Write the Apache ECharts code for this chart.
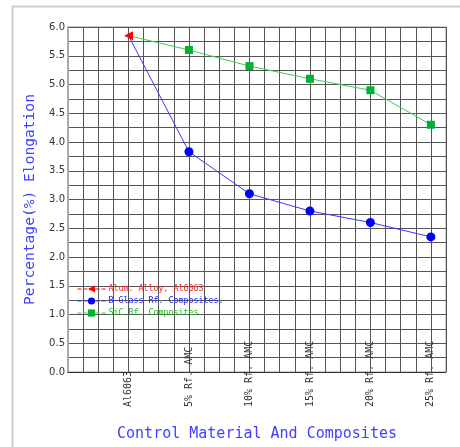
<!DOCTYPE html>
<html>
<head>
<meta charset="utf-8">
<script src="https://cdn.jsdelivr.net/npm/echarts@6/dist/echarts.min.js"></script>
<style>html,body{margin:0;padding:0;background:#fff}#c{width:460px;height:447px}</style>
</head>
<body>
<div id="c"></div>
<script>
var categories = ['Al6063', '5% Rf. AMC', '10% Rf. AMC', '15% Rf. AMC', '20% Rf. AMC', '25% Rf. AMC'];
var seriesNames = ['Alum. Alloy, Al6063', 'B-Glass Rf. Composites.', 'SiC Rf. Composites'];
var alloyValue = 5.85;
var bGlassValues = [3.83, 3.1, 2.8, 2.6, 2.35];
var sicValues = [5.6, 5.32, 5.1, 4.9, 4.3];
var yTicks = ['0.0','0.5','1.0','1.5','2.0','2.5','3.0','3.5','4.0','4.5','5.0','5.5','6.0'];

function buildComposite(vals) {
  var d = [{value: [1, alloyValue], symbol: 'none'}];
  vals.forEach(function (v, i) { d.push([i + 2, v]); });
  return d;
}

var chart = echarts.init(document.getElementById('c'));
var mono = 'DejaVu Sans Mono';
chart.setOption({
  animation: false,
  backgroundColor: '#fff',
  graphic: [{
    type: 'rect', left: 10, top: 4, shape: {width: 470, height: 460},
    style: {fill: 'none', stroke: '#cfcfcf', lineWidth: 2}, silent: true
  }],
  grid: {left: 68, top: 27, right: 14, bottom: 75, show: true, borderColor: '#999', borderWidth: 1},
  legend: {
    orient: 'vertical', left: 77, top: 285, padding: 0, itemGap: 4,
    itemWidth: 28, itemHeight: 9,
    data: [
      {name: seriesNames[0], textStyle: {color: '#ff2020'}},
      {name: seriesNames[1], textStyle: {color: '#2020ff'}},
      {name: seriesNames[2], textStyle: {color: '#22bb22'}}
    ],
    lineStyle: {type: 'dashed', width: 1},
    textStyle: {fontFamily: mono, fontSize: 8.3, padding: [0, 0, 0, -2]}
  },
  xAxis: {
    type: 'value', min: 0, max: 6.25, interval: 0.25,
    name: 'Control Material And Composites', nameLocation: 'middle', nameGap: 55,
    nameTextStyle: {color: '#4040ff', fontFamily: mono, fontSize: 15},
    axisLine: {show: true, onZero: false, lineStyle: {color: '#333'}},
    axisTick: {show: false},
    splitLine: {show: true, lineStyle: {color: '#555', width: 1}},
    axisLabel: {
      rotate: 90, align: 'left', verticalAlign: 'middle', margin: 35,
      color: '#333', fontFamily: mono, fontSize: 10,
      formatter: function (v) {
        var i = Math.round(v);
        if (Math.abs(v - i) < 1e-6 && i >= 1 && i <= categories.length) return categories[i - 1];
        return '';
      }
    }
  },
  yAxis: {
    type: 'value', min: 0, max: 6, interval: 0.25,
    name: 'Percentage(%) Elongation', nameLocation: 'middle', nameGap: 28,
    nameTextStyle: {color: '#4040ff', fontFamily: mono, fontSize: 14.6},
    axisLine: {show: true, lineStyle: {color: '#aaa', width: 2}},
    axisTick: {show: false},
    splitLine: {show: true, lineStyle: {color: '#555', width: 1}},
    axisLabel: {
      margin: 3, color: '#333', fontFamily: 'DejaVu Sans', fontSize: 10,
      formatter: function (v) {
        var k = Math.round(v * 2);
        if (Math.abs(v * 2 - k) < 1e-6) return yTicks[k];
        return '';
      }
    }
  },
  series: [
    {
      name: seriesNames[1], type: 'line', data: buildComposite(bGlassValues),
      symbol: 'circle', symbolSize: 9, z: 3,
      lineStyle: {color: '#3a3aff', width: 1}, itemStyle: {color: '#0000ff'}
    },
    {
      name: seriesNames[2], type: 'line', data: buildComposite(sicValues),
      symbol: 'rect', symbolSize: 8, z: 3,
      lineStyle: {color: '#44cc55', width: 1}, itemStyle: {color: '#00b030'}
    },
    {
      name: seriesNames[0], type: 'line', data: [[1, alloyValue]],
      symbol: 'triangle', symbolRotate: 90, symbolSize: 9, z: 4,
      lineStyle: {color: '#ff0000', width: 1}, itemStyle: {color: '#ff0000'}
    }
  ]
});
</script>
</body>
</html>
